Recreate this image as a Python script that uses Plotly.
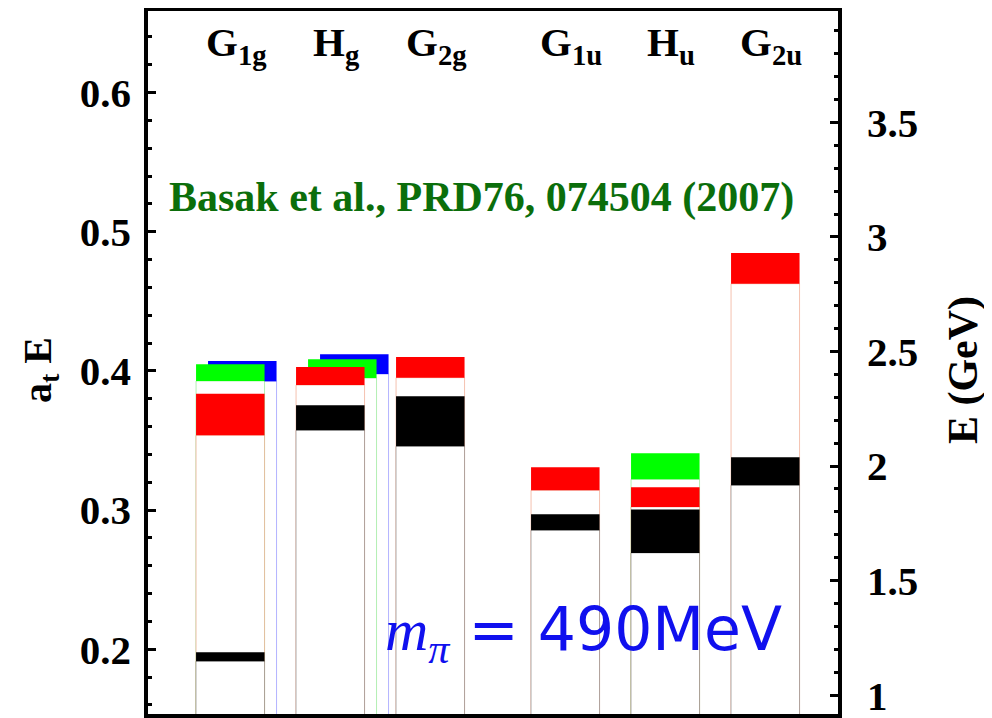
import plotly.graph_objects as go

# irreps and where they sit on the x axis
categories = ["G1g", "Hg", "G2g", "G1u", "Hu", "G2u"]
cat_labels = ["G<sub>1g</sub>", "H<sub>g</sub>", "G<sub>2g</sub>",
              "G<sub>1u</sub>", "H<sub>u</sub>", "G<sub>2u</sub>"]
cat_pos = [1, 2, 3, 4.35, 5.35, 6.35]

# energy bands (a_t E), lower and upper edge, per operator colour
blue_cat = ["G1g", "Hg"]
blue_lo = [0.3925, 0.3977]
blue_hi = [0.4070, 0.4119]
blue_slot = [1, 2]

green_cat = ["G1g", "Hg", "Hu"]
green_lo = [0.3927, 0.3948, 0.3221]
green_hi = [0.4047, 0.4083, 0.3408]
green_slot = [0, 1, 0]

red_cat = ["G1g", "Hg", "G2g", "G1u", "Hu", "G2u"]
red_lo = [0.3537, 0.3898, 0.3951, 0.3142, 0.3022, 0.4626]
red_hi = [0.3836, 0.4027, 0.4099, 0.3307, 0.3163, 0.4846]
red_slot = [0, 0, 0, 0, 0, 0]

black_cat = ["G1g", "Hg", "G2g", "G1u", "Hu", "G2u"]
black_lo = [0.1914, 0.3573, 0.3458, 0.2855, 0.2692, 0.3178]
black_hi = [0.1978, 0.3752, 0.3817, 0.2969, 0.3003, 0.3379]
black_slot = [0, 0, 0, 0, 0, 0]

y_range = [0.152, 0.660]
gev_range = [0.909, 3.995]

SERIF = "Liberation Serif"
ANCHO = 0.685
PASO = 0.12
BASE = 0.10

fig = go.Figure()


def capa(cats, lo, hi, slot, color, borde):
    xs = [cat_pos[categories.index(c)] + s * PASO for c, s in zip(cats, slot)]
    # columna blanca desde abajo hasta la banda
    fig.add_trace(go.Bar(x=xs, base=[BASE] * len(lo), y=[l - BASE for l in lo],
                         width=ANCHO, marker=dict(color="white", line=dict(color=borde, width=1)),
                         showlegend=False, hoverinfo="skip"))
    # banda de color
    fig.add_trace(go.Bar(x=xs, base=lo, y=[h - l for h, l in zip(hi, lo)],
                         width=ANCHO, marker=dict(color=color, line=dict(width=0)),
                         showlegend=False))


capa(blue_cat, blue_lo, blue_hi, blue_slot, "#0000ff", "rgba(0,0,255,0.3)")
capa(green_cat, green_lo, green_hi, green_slot, "#00ff00", "rgba(0,200,0,0.3)")
capa(red_cat, red_lo, red_hi, red_slot, "#ff0000", "rgba(230,120,80,0.45)")
capa(black_cat, black_lo, black_hi, black_slot, "#000000", "rgba(0,0,0,0.3)")

# eje derecho en GeV
fig.add_trace(go.Scatter(x=[None], y=[None], yaxis="y2", showlegend=False))

tick_font = dict(family=SERIF, size=41, color="black", weight="bold")

# la pagina deja 8px de margen, por eso 984x710
fig.update_layout(
    width=984, height=710,
    margin=dict(l=138, r=152, t=1, b=2, autoexpand=False),
    paper_bgcolor="white", plot_bgcolor="white",
    barmode="overlay",
    xaxis=dict(range=[0.157, 7.097], showgrid=False, zeroline=False, automargin=False,
               showticklabels=False, ticks=""),
    yaxis=dict(range=y_range, showgrid=False, zeroline=False, automargin=False,
               tickvals=[0.2, 0.3, 0.4, 0.5, 0.6], ticktext=["0.2", "0.3", "0.4", "0.5", "0.6"],
               ticks="inside", ticklen=10, tickwidth=3, tickcolor="black",
               minor=dict(dtick=0.02, tick0=0.2, ticks="inside", ticklen=6, tickwidth=3, tickcolor="black"),
               tickfont=tick_font, ticklabelstandoff=14),
    yaxis2=dict(range=gev_range, overlaying="y", side="right", showgrid=False, zeroline=False,
                automargin=False, ticklabeloverflow="allow",
                tickvals=[1, 1.5, 2, 2.5, 3, 3.5], ticktext=["1", "1.5", "2", "2.5", "3", "3.5"],
                ticks="inside", ticklen=10, tickwidth=3, tickcolor="black",
                minor=dict(dtick=0.1, tick0=1, ticks="inside", ticklen=6, tickwidth=3, tickcolor="black"),
                tickfont=tick_font, ticklabelstandoff=26),
)

# marco
fig.add_shape(type="rect", xref="paper", yref="paper", x0=0, x1=1, y0=0, y1=1,
              line=dict(color="black", width=4), layer="above")

# etiquetas de las irreps
for lab, p in zip(cat_labels, cat_pos):
    fig.add_annotation(x=p, y=0.949, xref="x", yref="paper", text=lab, showarrow=False,
                       xanchor="center", yanchor="middle", xshift=6,
                       font=dict(family=SERIF, size=41, color="black", weight="bold"))

fig.add_annotation(x=0.483, y=0.733, xref="paper", yref="paper", showarrow=False,
                   xanchor="center", yanchor="middle",
                   text="Basak et al., PRD76, 074504 (2007)",
                   font=dict(family=SERIF, size=42, color="#0b6e0b", weight="bold"))

fig.add_annotation(x=0.63, y=0.117, xref="paper", yref="paper", showarrow=False,
                   xanchor="center", yanchor="middle",
                   text="<span style='font-family:Liberation Serif'><i>m</i><sub><i>π</i></sub></span> = 490MeV",
                   font=dict(family="DejaVu Sans", size=60, color="#1010ee"))

fig.add_annotation(x=-0.153, y=0.489, xref="paper", yref="paper", showarrow=False, textangle=-90,
                   xanchor="center", yanchor="middle",
                   text="a<sub>t</sub> E", font=dict(family=SERIF, size=40, color="black", weight="bold"))
fig.add_annotation(x=1.177, y=0.489, xref="paper", yref="paper", showarrow=False, textangle=-90,
                   xanchor="center", yanchor="middle",
                   text="E (GeV)", font=dict(family=SERIF, size=42, color="black", weight="bold"))

fig.write_html("out.html")
